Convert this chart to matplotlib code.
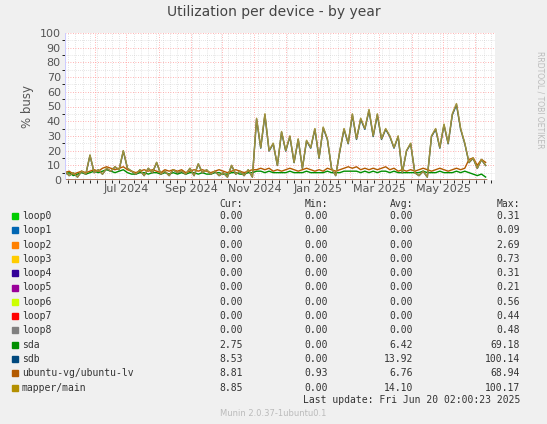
import matplotlib
matplotlib.use("Agg")
import matplotlib.pyplot as plt
import matplotlib.dates as mdates
import numpy as np
import datetime as dt

start = dt.datetime(2024, 5, 3)
step_days = 4
# mapper/main / sdb (high, nearly identical)
high = [6,3,5,2,6,4,17,5,7,4,8,6,9,7,20,8,6,4,7,3,8,5,12,4,6,3,7,5,6,4,8,3,11,5,7,4,6,3,5,2,
        10,4,6,3,7,2,42,22,45,20,25,10,33,20,30,12,28,8,27,22,35,15,36,28,8,3,20,35,25,45,28,42,35,48,30,45,
        28,35,30,22,30,5,20,25,5,3,6,2,30,35,22,38,25,45,52,35,25,12,15,8,14,10]
# ubuntu-vg/ubuntu-lv (low)
low = [5,6,4,5,6,5,6,7,6,8,9,8,7,8,9,7,6,5,6,7,6,7,6,5,7,6,7,6,7,5,6,7,6,7,6,5,6,7,6,5,
       6,7,6,5,6,7,7,8,7,8,6,7,6,7,8,7,6,7,8,7,6,7,6,8,7,6,7,8,9,8,9,7,8,7,8,7,8,9,
       7,8,6,7,6,7,6,7,8,7,6,7,8,7,6,7,8,7,8,14,15,10,14,12]
sda = [4,5,3,4,5,4,5,6,5,6,7,6,5,6,7,5,4,4,5,5,4,5,5,4,5,4,5,4,5,4,5,5,4,5,4,4,5,5,4,4,
       5,5,4,4,5,5,6,6,5,6,5,5,5,5,6,5,5,5,6,5,5,5,5,6,5,5,5,6,6,6,6,5,6,5,6,5,6,6,
       5,6,5,5,5,5,5,5,6,5,5,5,6,5,5,5,6,5,6,5,4,3,4,2]
dates = [start + dt.timedelta(days=step_days * i) for i in range(len(high))]
sdb = [v * 0.985 for v in high]

names = ["loop0","loop1","loop2","loop3","loop4","loop5","loop6","loop7","loop8",
         "sda","sdb","ubuntu-vg/ubuntu-lv","mapper/main"]
colors = ["#00cc00","#0066b3","#ff8000","#ffcc00","#330099","#990099","#ccff00","#ff0000",
          "#808080","#008f00","#00487d","#b35a00","#b38f00"]
cur = ["0.00"]*9 + ["2.75","8.53","8.81","8.85"]
mn = ["0.00"]*11 + ["0.93","0.00"]
avg = ["0.00"]*9 + ["6.42","13.92","6.76","14.10"]
mx = ["0.31","0.09","2.69","0.73","0.31","0.21","0.56","0.44","0.48","69.18","100.14","68.94","100.17"]

bg = "#f0f0f0"
fig = plt.figure(figsize=(5.47, 4.24), dpi=100, facecolor=bg)
ax = fig.add_axes([65/547, 1-180/424, 430/547, 147/424], facecolor="white")
zero = [0]*len(dates)
for c in colors[:9]:
    ax.plot(dates, zero, color=c, lw=1)
ax.plot(dates, sda, color=colors[9], lw=1)
ax.plot(dates, sdb, color=colors[10], lw=1)
ax.plot(dates, low, color=colors[11], lw=1)
ax.plot(dates, high, color=colors[12], lw=1, alpha=0.9)
ax.plot(dates, high, color="#999977", lw=0.8, alpha=0.5)

ax.set_xlim(dt.datetime(2024, 5, 3), dt.datetime(2025, 6, 20))
ax.set_ylim(0, 100)
ax.set_yticks(range(0, 101, 10))
ax.set_yticks(range(0, 101, 5), minor=True)
ax.xaxis.set_major_locator(mdates.MonthLocator(bymonth=[7, 9, 11, 1, 3, 5]))
ax.xaxis.set_major_formatter(mdates.DateFormatter("%b %Y"))
ax.xaxis.set_minor_locator(mdates.WeekdayLocator(byweekday=0))
ax.grid(which="major", axis="y", color="#ff9999", ls=(0, (1, 2)), lw=0.6)
ax.grid(which="minor", color="#cccccc", ls=(0, (1, 2)), lw=0.5)
m = dt.datetime(2024, 6, 1)
while m < dt.datetime(2025, 6, 20):
    ax.axvline(m, color="#ff9999", ls=(0, (1, 2)), lw=0.6, zorder=0.5)
    m = dt.datetime(m.year + (m.month // 12), m.month % 12 + 1, 1)
ax.axvline(dt.datetime(2024, 5, 3), color="#ccccff", lw=1.5)
ax.set_axisbelow(True)
for s in ax.spines.values():
    s.set_visible(False)
ax.tick_params(length=0, labelsize=8, colors="#555555", pad=3)
ax.set_ylabel("% busy", fontsize=8.5, color="#555555")
fig.text(0.5, 1-12/424, "Utilization per device - by year", ha="center", va="center", fontsize=10, color="#444444")
fig.text(540/547, 1-100/424, "RRDTOOL / TOBI OETIKER", rotation=270, ha="center", va="center", fontsize=5.5, color="#bbbbbb")

fs = 7
mono = "DejaVu Sans Mono"
fig.text(243/547, 1-204/424, "Cur:", ha="right", va="center", fontsize=fs, family=mono, color="#333333")
fig.text(328/547, 1-204/424, "Min:", ha="right", va="center", fontsize=fs, family=mono, color="#333333")
fig.text(413/547, 1-204/424, "Avg:", ha="right", va="center", fontsize=fs, family=mono, color="#333333")
fig.text(520/547, 1-204/424, "Max:", ha="right", va="center", fontsize=fs, family=mono, color="#333333")
for i, n in enumerate(names):
    y = 1 - (216 + i * 14.3) / 424
    fig.patches.append(plt.Rectangle((12/547, y - 3/424), 6/547, 6/424, transform=fig.transFigure, color=colors[i]))
    fig.text(22/547, y, n, va="center", fontsize=fs, family=mono, color="#333333")
    fig.text(243/547, y, cur[i], ha="right", va="center", fontsize=fs, family=mono, color="#333333")
    fig.text(328/547, y, mn[i], ha="right", va="center", fontsize=fs, family=mono, color="#333333")
    fig.text(413/547, y, avg[i], ha="right", va="center", fontsize=fs, family=mono, color="#333333")
    fig.text(520/547, y, mx[i], ha="right", va="center", fontsize=fs, family=mono, color="#333333")
fig.text(520/547, 1-400/424, "Last update: Fri Jun 20 02:00:23 2025", ha="right", va="center", fontsize=fs, family=mono, color="#333333")
fig.text(0.5, 1-413/424, "Munin 2.0.37-1ubuntu0.1", ha="center", va="center", fontsize=6, color="#bbbbbb")
fig.savefig("out.png", dpi=100, facecolor=bg)
